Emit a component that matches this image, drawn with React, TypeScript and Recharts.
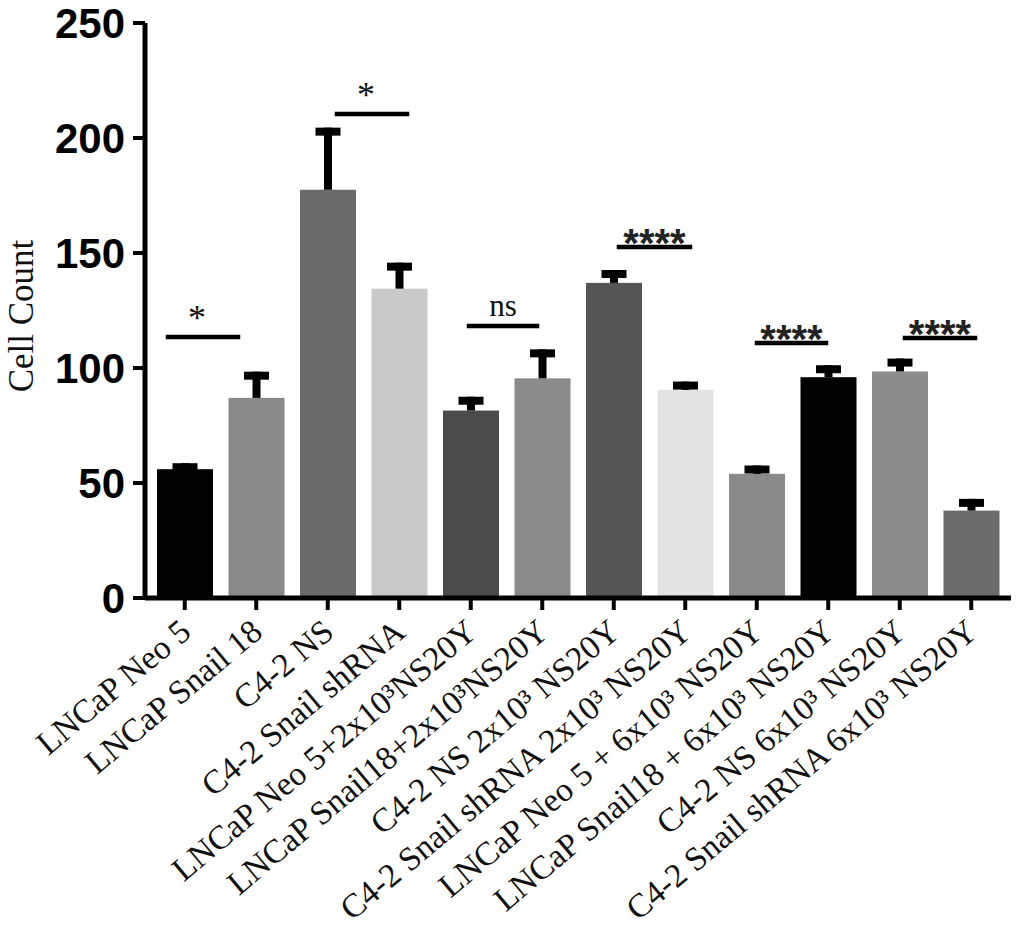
import React from "react";
import { Bar, BarChart, Cell, ReferenceLine, XAxis, YAxis } from "recharts";

// groups on the x axis
const groups = [
  "LNCaP Neo 5",
  "LNCaP Snail 18",
  "C4-2 NS",
  "C4-2 Snail shRNA",
  "LNCaP Neo 5+2x10³NS20Y",
  "LNCaP Snail18+2x10³NS20Y",
  "C4-2 NS 2x10³ NS20Y",
  "C4-2 Snail shRNA 2x10³ NS20Y",
  "LNCaP Neo 5 + 6x10³ NS20Y",
  "LNCaP Snail18 + 6x10³ NS20Y",
  "C4-2 NS 6x10³ NS20Y",
  "C4-2 Snail shRNA 6x10³ NS20Y",
];

// mean cell count and upper error (SEM)
const cellCounts = [56, 87, 177.5, 134.5, 81.5, 95.5, 137, 90.5, 54, 96, 98.5, 38];
const errors = [2.6, 11.4, 27, 11.3, 6, 12.6, 5.6, 3.6, 3.6, 5.2, 5.6, 5.1];

const yTicks = [0, 50, 100, 150, 200, 250];

// significance brackets: pair of groups, height (cell count), label
const sigPairs = [
  [0, 1],
  [2, 3],
  [4, 5],
  [6, 7],
  [8, 9],
  [10, 11],
];
const sigHeights = [113.5, 210.4, 118.3, 152.6, 110.9, 113.0];
const sigLabels = ["*", "*", "ns", "****", "****", "****"];

// styling
const barColors = [
  "#000000", "#8a8a8a", "#6a6a6a", "#c9c9c9", "#4b4b4b", "#8b8b8b",
  "#555555", "#e3e3e3", "#8a8a8a", "#000000", "#8c8c8c", "#6b6b6b",
];
const sigShift = [
  [-19, -16],
  [7, 10],
  [-4, -3],
  [3, 7],
  [-2, 0],
  [3, 6],
];

const serif = "'Liberation Serif', 'Times New Roman', serif";
const sans = "'Liberation Sans', Arial, Helvetica, sans-serif";

const chartData = groups.map((group, i) => ({
  group,
  count: cellCounts[i],
  err: errors[i],
}));

// bar with an upward-only error bar (T shape)
// eslint-disable-next-line @typescript-eslint/no-explicit-any
const BarWithError = (props: any) => {
  const { x, y, width, height, index, payload } = props;
  const fill = props.fill || barColors[index];
  const pxPerUnit = payload.count ? height / payload.count : 0;
  const errPx = payload.err * pxPerUnit;
  const cx = x + width / 2;
  const top = y - errPx;
  return (
    <g>
      <rect x={x} y={y} width={width} height={height} fill={fill} />
      <rect x={cx - 4} y={top} width={8} height={errPx} fill="#000" />
      <rect x={cx - 12.5} y={top} width={25} height={8} fill="#000" />
    </g>
  );
};

// eslint-disable-next-line @typescript-eslint/no-explicit-any
const GroupTick = ({ x, y, payload }: any) => {
  const tx = x + 8;
  const ty = y + 23;
  return (
    <text
      x={tx}
      y={ty}
      transform={`rotate(-40 ${tx} ${ty})`}
      textAnchor="end"
      fontFamily={serif}
      fontSize={33.5}
      fill="#111"
    >
      {payload.value}
    </text>
  );
};

const CountLabel = () => (
  <text
    x={0}
    y={0}
    transform="translate(33 316) rotate(-90)"
    textAnchor="middle"
    fontFamily={serif}
    fontSize={35}
    fill="#111"
  >
    Cell Count
  </text>
);

// eslint-disable-next-line @typescript-eslint/no-explicit-any
const makeSigMark = (idx: number) => (p: any) => {
  const [d1, d2] = sigShift[idx];
  const left = p.x1 + d1;
  const right = p.x2 + d2;
  const mid = (left + right) / 2;
  const label = sigLabels[idx];
  const y = p.y1;
  let text;
  if (label === "ns") {
    text = (
      <text x={mid} y={y - 10} textAnchor="middle" fontFamily={serif} fontSize={31} fill="#111">
        ns
      </text>
    );
  } else if (label === "*") {
    text = (
      <text x={mid - 6} y={y - 7} textAnchor="middle" fontFamily={serif} fontSize={36} fill="#111">
        *
      </text>
    );
  } else {
    text = (
      <text x={mid} y={y + 10} textAnchor="middle" fontFamily={sans} fontWeight={700} fontSize={40} fill="#222">
        {label}
      </text>
    );
  }
  return (
    <g>
      <line x1={left} x2={right} y1={y} y2={y} stroke="#000" strokeWidth={4.5} />
      {text}
    </g>
  );
};

export default function App() {
  return (
    <div style={{ width: 1020, height: 934, background: "#fff" }}>
      <style>{"body{margin:0}"}</style>
      <BarChart
        width={1020}
        height={934}
        data={chartData}
        margin={{ top: 23, right: 9, left: 0, bottom: 0 }}
      >
        <XAxis
          dataKey="group"
          interval={0}
          height={336}
          padding={{ left: 4, right: 4 }}
          axisLine={{ stroke: "#000", strokeWidth: 5 }}
          tickLine={{ stroke: "#000", strokeWidth: 4 }}
          tickSize={12}
          tick={<GroupTick />}
        />
        <YAxis
          width={145}
          domain={[0, 250]}
          ticks={yTicks}
          interval={0}
          axisLine={{ stroke: "#000", strokeWidth: 5 }}
          tickLine={{ stroke: "#000", strokeWidth: 4 }}
          tickSize={12}
          tickMargin={8}
          tick={{ fontSize: 42, fontWeight: 700, fill: "#000", fontFamily: sans }}
          label={<CountLabel />}
        />
        <Bar dataKey="count" barSize={56} shape={<BarWithError />} isAnimationActive={false}>
          {chartData.map((d, i) => (
            <Cell key={d.group} fill={barColors[i]} />
          ))}
        </Bar>
        {sigPairs.map(([a, b], i) => (
          <ReferenceLine
            key={`sig-${i}`}
            segment={[
              { x: groups[a], y: sigHeights[i] },
              { x: groups[b], y: sigHeights[i] },
            ]}
            shape={makeSigMark(i)}
          />
        ))}
      </BarChart>
    </div>
  );
}
